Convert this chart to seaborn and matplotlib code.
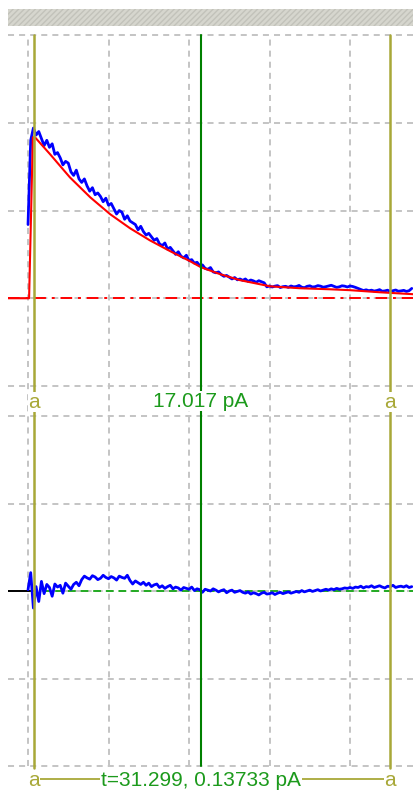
import numpy as np
import pandas as pd
import matplotlib
matplotlib.use("Agg")
import matplotlib.pyplot as plt
import seaborn as sns
from matplotlib.lines import Line2D
from matplotlib.patches import Rectangle
from matplotlib.transforms import blended_transform_factory as btf

# ---------------- data ----------------
dt = 0.5
sample_t = np.arange(0, 72, dt)  # sampling grid (ms)

trace_pA = [
    42, 90, 97, 93, 95, 91, 87, 90, 86, 88,
    82, 83, 80, 76, 78, 77, 72, 70, 73, 68,
    66, 68, 64, 61, 63, 59, 60, 58, 55, 57,
    53, 54, 51, 48, 50, 49, 45, 47, 44, 43,
    42, 39, 41, 38, 36, 37, 35, 33, 34, 31,
    30, 31.5, 28, 29, 27, 25, 26.5, 24, 23, 24.5,
    21.5, 22, 20, 20.5, 18.5, 19, 17, 16.5, 17.5, 15,
    14.5, 15, 13.5, 12.5, 13, 12, 11, 11.8, 10.5, 11,
    10.2, 11, 9.6, 10.4, 9.9, 9.1, 10.0, 9.4, 8.8, 6.5,
    7.0, 6.4, 6.9, 7.2, 6.1, 6.6, 6.8, 6.2, 7.0, 6.5,
    6.7, 7.3, 6.3, 6.0, 6.8, 7.1, 6.4, 6.6, 7.2, 6.9,
    6.3, 6.6, 7.0, 7.4, 6.8, 6.2, 6.5, 7.1, 6.9, 6.4,
    7.0, 6.7, 6.2, 5.6, 5.0, 4.4, 4.8, 4.3, 4.6, 4.1,
    4.4, 4.9, 4.0, 4.2, 4.6, 3.8, 4.3, 4.7, 4.0, 4.2,
    4.5, 3.9, 4.3, 5.6,
]

resid_pA = [
    0.3, 4.2, -3.9, 1.0, -2.4, 2.2, -0.6, 1.5, 0.8, -1.2,
    1.6, 0.9, 1.3, -0.5, 1.8, 1.1, 0.4, 1.5, 2.0, 1.2,
    2.6, 3.4, 3.0, 2.7, 3.5, 3.2, 2.6, 2.9, 3.6, 3.1,
    2.8, 3.3, 3.0, 2.5, 3.4, 3.1, 2.9, 3.6, 2.4, 1.6,
    2.3, 1.9, 1.5, 2.0, 1.3, 1.8, 1.0, 1.4, 1.6, 0.8,
    1.2, 0.6, 1.0, 1.3, 0.5, 0.9, 0.7, 0.2, 0.8, 0.6,
    0.4, 0.9, 0.1, 0.5, 0.3, -0.3, 0.4, 0.2, 0.0, 0.5,
    0.2, -0.2, 0.1, 0.3, -0.4, 0.0, 0.2, -0.3, -0.1, 0.1,
    -0.3, -0.5, -0.2, -0.7, -0.4, -0.6, -0.9, -0.5, -0.3, -0.7,
    -0.6, -0.4, -0.8, -0.5, -0.3, -0.6, -0.4, -0.2, -0.5, -0.3,
    -0.1, -0.3, 0.1, -0.2, 0.0, 0.2, -0.1, 0.1, 0.3, 0.0,
    0.2, 0.4, 0.2, 0.5, 0.3, 0.6, 0.4, 0.5, 0.7, 0.6,
    0.8, 0.6, 0.9, 0.8, 1.1, 0.7, 1.0, 0.9, 1.2, 0.8,
    1.0, 1.2, 0.9, 0.7, 1.1, 1.0, 1.3, 0.8, 1.0, 1.1,
    0.9, 1.2, 0.8, 1.0,
]

fit_t = [-3.8, 0.2, 0.9, 1.3, 4.1, 7.8, 11.6, 15.3, 19.0, 22.7, 26.5,
         30.2, 32.2, 35.8, 39.5, 45.1, 50.7, 56.3, 60.0, 65.6, 71.8]
fit_pA = [0, 0, 91.7, 91.7, 82.1, 68.9, 57.5, 47.9, 39.9, 33.0, 26.8,
          21.1, 17.7, 13.7, 10.3, 6.8, 5.7, 5.1, 4.6, 3.4, 2.3]

xlim = (-3.73, 71.73)
top_ylim = (-50, 150)
bot_ylim = (-40, 40)
vgrid_t = [0, 15, 30, 45, 60]
top_hgrid = [-50, 0, 50, 100, 150]
bot_hgrid = [-40, -20, 0, 20, 40]
cursor_a = [1.12, 67.45]
cursor_g = 32.23
label_amp = "17.017 pA"
label_cursor = "t=31.299, 0.13733 pA"

# ---------------- style ----------------
sns.set_style("white")
plt.rcParams["font.family"] = ["Liberation Sans", "DejaVu Sans"]

W, H = 413, 794
fig = plt.figure(figsize=(W / 100, H / 100), dpi=100)
fig.patch.set_facecolor("white")

def fx(px):
    return px / W

def fy(py):
    return 1 - py / H

ax1 = fig.add_axes([fx(8), fy(386), fx(405), 351 / H])
ax2 = fig.add_axes([fx(8), fy(766), fx(405), 350 / H])
for ax in (ax1, ax2):
    ax.set_xlim(*xlim)
    for s in ax.spines.values():
        s.set_visible(False)
    ax.set_xticks([]); ax.set_yticks([])
    ax.patch.set_visible(False)
ax1.set_ylim(*top_ylim)
ax2.set_ylim(*bot_ylim)

GRID = "#c4c4c4"
gls = (0, (3.1, 2.6))
glw = 1.4
tr = btf(ax1.transData, fig.transFigure)
for v in vgrid_t:
    fig.add_artist(Line2D([v, v], [fy(766), fy(35)], transform=tr, color=GRID,
                          lw=glw, ls=gls, zorder=-2))
for ax, hg in ((ax1, top_hgrid), (ax2, bot_hgrid)):
    trh = btf(ax.transAxes, ax.transData)
    for h in hg:
        ax.add_line(Line2D([0, 1], [h, h], transform=trh, color=GRID, lw=glw,
                           ls=gls, zorder=0, clip_on=False))

# ---------------- top panel ----------------
df_top = pd.DataFrame({"t": sample_t[:len(trace_pA)], "pA": trace_pA})
df_fit = pd.DataFrame({"t": fit_t, "pA": fit_pA})
ax1.axhline(0, color="#ff0000", lw=1.4, ls=(0, (6, 3, 1.5, 3)), zorder=1)
sns.lineplot(data=df_top, x="t", y="pA", ax=ax1, color="#0000ff", lw=2.0,
             sort=False, estimator=None, zorder=2)
sns.lineplot(data=df_fit, x="t", y="pA", ax=ax1, color="#ff0000", lw=1.5,
             sort=False, estimator=None, zorder=3)

# ---------------- bottom panel ----------------
df_res = pd.DataFrame({"t": sample_t[:len(resid_pA)], "pA": resid_pA})
ax2.plot([xlim[0], 0.3], [0, 0], color="black", lw=1.4, zorder=2)
ax2.plot([0.3, xlim[1]], [0, 0], color="#22aa22", lw=1.4, ls=(0, (4, 2.5)), zorder=1)
sns.lineplot(data=df_res, x="t", y="pA", ax=ax2, color="#0000ff", lw=2.0,
             sort=False, estimator=None, zorder=2)
for ax in (ax1, ax2):
    ax.set_xlabel(""); ax.set_ylabel("")

# ---------------- cursors ----------------
YEL = "#a8a838"
GRN = "#008000"
for c in cursor_a:
    fig.add_artist(Line2D([c, c], [fy(768), fy(35)], transform=tr, color=YEL,
                          lw=1.8, zorder=2))
fig.add_artist(Line2D([cursor_g, cursor_g], [fy(766), fy(35)], transform=tr,
                      color=GRN, lw=1.5, zorder=2))

# hatched header bar
fig.add_artist(Rectangle((fx(8), fy(26)), 1 - fx(8), 17 / H, transform=fig.transFigure,
                         facecolor="#d6d6ce", edgecolor="#c2c2ba", hatch="//////",
                         lw=0, zorder=1))

TXT_G = "#1c9a1c"
fs = 15
bb = dict(facecolor="white", edgecolor="none", pad=0.5)
xt = lambda v: ax1.transData.transform((v, 0))[0] / W
fig.text(xt(cursor_a[0]), fy(402), "a", color=YEL, fontsize=fs, ha="center",
         va="center", bbox=bb, zorder=5)
fig.text(xt(cursor_a[1]), fy(402), "a", color=YEL, fontsize=fs, ha="center",
         va="center", bbox=bb, zorder=5)
fig.text(xt(cursor_g), fy(401), label_amp, color=TXT_G, fontsize=fs,
         ha="center", va="center", bbox=bb, zorder=5)

fig.add_artist(Line2D([xt(cursor_a[0]), xt(cursor_a[1])], [fy(779), fy(779)],
                      transform=fig.transFigure, color=YEL, lw=1.3, zorder=3))
fig.text(xt(cursor_a[0]), fy(781), "a", color=YEL, fontsize=fs, ha="center",
         va="center", bbox=bb, zorder=5)
fig.text(xt(cursor_a[1]), fy(781), "a", color=YEL, fontsize=fs, ha="center",
         va="center", bbox=bb, zorder=5)
fig.text(xt(cursor_g), fy(781), label_cursor, color=TXT_G, fontsize=fs,
         ha="center", va="center", bbox=bb, zorder=5)

fig.savefig("out.png", dpi=100)
